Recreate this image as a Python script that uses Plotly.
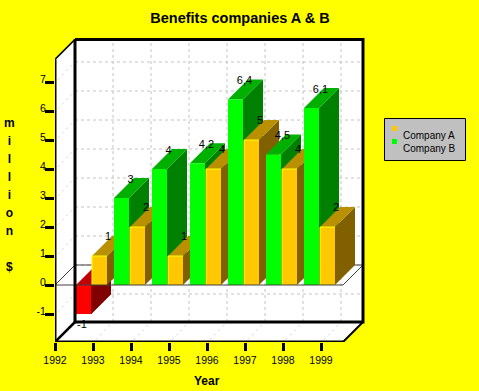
import plotly.graph_objects as go

years = [1993, 1994, 1995, 1996, 1997, 1998, 1999]
company_a = [1, 2, 1, 4, 5, 4, 2]
company_b = [-1, 3, 4, 4.2, 6.4, 4.5, 6.1]
labels_a = ["1", "2", "1", "4", "5", "4", "2"]
labels_b = ["-1", "3", "4", "4,2", "6,4", "4,5", "6,1"]
x_ticks = [1992, 1993, 1994, 1995, 1996, 1997, 1998, 1999]
y_ticks = [-1, 0, 1, 2, 3, 4, 5, 6, 7]

W, H = 479, 391
L, R, T, B = 55, 365, 38, 342      # plot area in pixels
PX_X, PX_Y = 38.0, 29.0            # pixels per year, pixels per unit
Y0_PX = 285.0
x_min = 1992.0
x_max = x_min + (R - L) / PX_X
y_min = (Y0_PX - B) / PX_Y
y_max = (Y0_PX - T) / PX_Y
DX, DY = 20 / PX_X, 20 / PX_Y      # depth of the 3D box
BAR_W = 15 / PX_X
OFF_B, OFF_A = -17 / PX_X, -1 / PX_X
FLOOR = -57 / PX_Y
TOP = 7.78
RIGHT = x_min + 288 / PX_X

BLACK, GRID, GRID2, ZERO = "#000000", "#c4c4c4", "#d0d0d0", "#404040"
BG = "#ffff00"
C_A = ("#ffc800", "#806000", "#b89000")
C_B = ("#00ff00", "#008000", "#00b000")
C_N = ("#ff0000", "#800000", "#c00000")

fig = go.Figure()


def poly(xs, ys, color):
    fig.add_trace(go.Scatter(x=xs + xs[:1], y=ys + ys[:1], mode="lines", fill="toself",
                             fillcolor=color, line=dict(width=0, color=color),
                             hoverinfo="skip", showlegend=False, cliponaxis=False))


def line(xs, ys, color, width=1, dash="solid"):
    fig.add_trace(go.Scatter(x=xs, y=ys, mode="lines",
                             line=dict(width=width, color=color, dash=dash),
                             hoverinfo="skip", showlegend=False, cliponaxis=False))


# walls
poly([x_min + DX, RIGHT + DX, RIGHT + DX, x_min + DX], [FLOOR + DY, FLOOR + DY, TOP + DY, TOP + DY], "#ffffff")
poly([x_min, x_min + DX, x_min + DX, x_min], [FLOOR, FLOOR + DY, TOP + DY, TOP], "#ffffff")
poly([x_min, RIGHT, RIGHT + DX, x_min + DX], [FLOOR, FLOOR, FLOOR + DY, FLOOR + DY], "#ffffff")

# grids
for v in y_ticks:
    line([x_min + DX, RIGHT + DX], [v + DY, v + DY], GRID, 1, "3px,3px")
    line([x_min + 0.08, x_min + DX], [v + 0.08, v + DY], GRID2, 1, "2px,4px")
for t in x_ticks[1:]:
    line([t + DX, t + DX], [FLOOR + DY, TOP + DY], GRID, 1, "3px,3px")
    line([t + 0.08, t + DX], [FLOOR + 0.08, FLOOR + DY], GRID2, 1, "2px,4px")

# back part of the zero plane
line([x_min, x_min + DX, RIGHT + DX, RIGHT], [0, DY, DY, 0], ZERO, 1)


def bar(x0, v, colors, outline=False):
    x1 = x0 + BAR_W
    front, side, top = colors
    poly([x1, x1 + DX, x1 + DX, x1], [0, DY, v + DY, v], side)
    poly([x0, x1, x1 + DX, x0 + DX], [v, v, v + DY, v + DY], top)
    if v < 0:
        poly([x0 + DX, x1 + DX, x1, x0], [DY, DY, 0, 0], top)
        poly([x1, x1 + DX, x1 + DX, x1], [0, DY, v + DY, v], side)
    poly([x0, x1, x1, x0], [0, 0, v, v], front)
    if outline:
        line([x0, x0, x1], [0, v, v], BG, 1)


for yr, a, b in zip(years, company_a, company_b):
    bar(yr + OFF_B, b, C_N if b < 0 else C_B)
    bar(yr + OFF_A, a, C_A, outline=True)

# front part of the zero plane
line([x_min, RIGHT], [0, 0], ZERO, 1)

# box frame
line([x_min + DX, x_min + DX], [FLOOR + DY, TOP + DY], BLACK, 3)
line([x_min + DX, RIGHT + DX, RIGHT + DX, x_min + DX], [TOP + DY, TOP + DY, FLOOR + DY, FLOOR + DY], BLACK, 3)
line([x_min, x_min + DX], [FLOOR, FLOOR + DY], BLACK, 2.5)
line([RIGHT, RIGHT + DX], [FLOOR, FLOOR + DY], BLACK, 2)
line([x_min, x_min + DX], [TOP, TOP + DY], BLACK, 1.5)
line([x_min, x_min], [FLOOR, TOP], BLACK, 3)
line([x_min, RIGHT], [FLOOR, FLOOR], BLACK, 3)

# value labels
lx, ly, lt = [], [], []
for yr, a, b, ta, tb in zip(years, company_a, company_b, labels_a, labels_b):
    if b < 0:
        lx.append(yr + OFF_B + 6 / PX_X)
        ly.append(b - 11 / PX_Y)
    else:
        lx.append(yr + OFF_B + 16.5 / PX_X)
        ly.append(b + 18 / PX_Y)
    lt.append(tb)
    lx.append(yr + OFF_A + 16 / PX_X)
    ly.append(a + 19 / PX_Y)
    lt.append(ta)
fig.add_trace(go.Scatter(x=lx, y=ly, text=lt, mode="text", textposition="middle center",
                         textfont=dict(family="Liberation Sans", size=11, color="#000000"),
                         hoverinfo="skip", showlegend=False, cliponaxis=False))


def px(x):
    return (x - L) / (R - L)


def py(y):
    return (B - y) / (B - T)


shapes = [
    dict(type="rect", xref="paper", yref="paper", x0=px(384.5), x1=px(465.5), y0=py(118.5), y1=py(160.5),
         fillcolor="#c0c0c0", line=dict(color="#000000", width=1)),
    dict(type="rect", xref="paper", yref="paper", x0=px(392), x1=px(397), y0=py(126), y1=py(131),
         fillcolor="#ffc800", line=dict(width=0)),
    dict(type="rect", xref="paper", yref="paper", x0=px(392), x1=px(397), y0=py(139), y1=py(144),
         fillcolor="#00ff00", line=dict(width=0)),
]

annotations = [
    dict(xref="paper", yref="paper", x=px(401), y=py(135), text="Company A", showarrow=False,
         xanchor="left", yanchor="middle", font=dict(family="Liberation Sans", size=10, color="#000000")),
    dict(xref="paper", yref="paper", x=px(401), y=py(148), text="Company B", showarrow=False,
         xanchor="left", yanchor="middle", font=dict(family="Liberation Sans", size=10, color="#000000")),
    dict(xref="paper", yref="paper", x=px(9), y=py(195),
         text="<br>".join('<span style="font-size:12px">%s</span>' % c
                          for c in ["m", "i", "l", "l", "i", "o", "n", " ", "$"]),
         showarrow=False, xanchor="center", yanchor="middle", align="center",
         font=dict(family="Liberation Sans", size=13.8, color="#000000", weight="bold")),
    dict(xref="paper", yref="paper", x=px(207), y=py(381), text="<b>Year</b>", showarrow=False,
         xanchor="center", yanchor="middle", font=dict(family="Liberation Sans", size=12, color="#000000")),
]

axis_font = dict(family="Liberation Sans", size=10.5, color="#000000")
fig.update_layout(
    width=W, height=H, autosize=False,
    margin=dict(l=L, r=W - R, t=T, b=H - B, pad=0),
    paper_bgcolor=BG, plot_bgcolor="rgba(0,0,0,0)",
    showlegend=False,
    title=dict(text="<b>Benefits companies A &amp; B</b>", x=240 / W, xanchor="center",
               y=1 - 18 / H, yanchor="middle",
               font=dict(family="Liberation Sans", size=14.5, color="#000000")),
    xaxis=dict(range=[x_min, x_max], tickvals=x_ticks, ticktext=[str(t) for t in x_ticks],
               showgrid=False, zeroline=False, showline=False, ticks="outside", ticklen=8,
               tickwidth=3, tickcolor="#000000", tickfont=axis_font),
    yaxis=dict(range=[y_min, y_max], tickvals=y_ticks, ticktext=[str(t) for t in y_ticks],
               showgrid=False, zeroline=False, showline=False, ticks="outside", ticklen=9,
               tickwidth=3, tickcolor="#000000", tickfont=axis_font,
               ticklabelshift=-3, ticklabelstandoff=-3),
    shapes=shapes, annotations=annotations,
)

fig.write_html("out.html", config=dict(displayModeBar=False),
               post_script="document.body.style.margin='0';document.body.style.overflow='hidden';document.documentElement.style.background='#ffff00';")
